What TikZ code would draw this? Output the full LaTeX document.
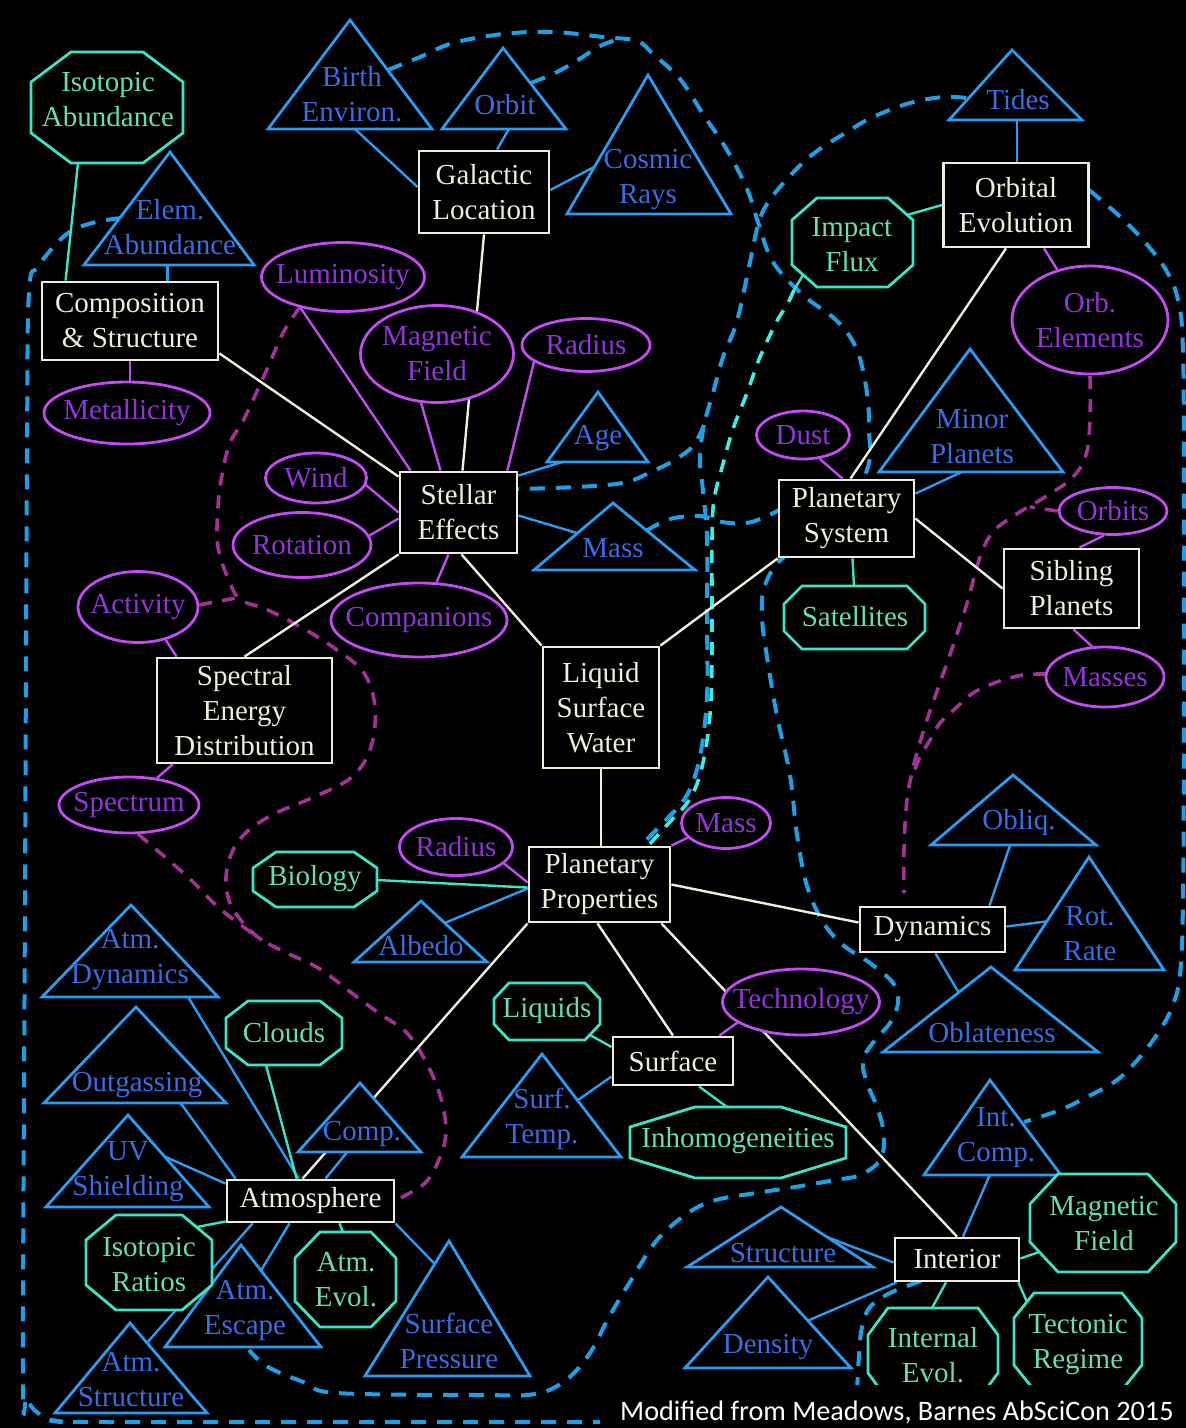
\documentclass[tikz,border=0pt]{standalone}
\usepackage{fontspec}
\usetikzlibrary{shapes.geometric,calc}
\newfontfamily\labfam{Liberation Serif}
\newfontfamily\capfam{Carlito}
\newcommand\labfont{\labfam\fontsize{29}{35}\selectfont}
\newcommand\capfont{\capfam\fontsize{28.2}{34}\selectfont}
\definecolor{wcol}{HTML}{EFEEDC}
\definecolor{bcol}{HTML}{2B9CF2}
\definecolor{btxt}{HTML}{3A6CE3}
\definecolor{pcol}{HTML}{C24CF2}
\definecolor{ptxt}{HTML}{9036D8}
\definecolor{tcol}{HTML}{3EE3C6}
\definecolor{ttxt}{HTML}{66DDB8}
\definecolor{bdcol}{HTML}{1FA0E6}
\definecolor{pdcol}{HTML}{A23198}
\definecolor{tdcol}{HTML}{3FEDE2}
\pgfdeclarelayer{bg}
\pgfdeclarelayer{mid}
\pgfsetlayers{bg,mid,main}
\tikzset{
  wbox/.style={rectangle, draw=wcol, line width=2.8pt, fill=black, text=wcol, inner sep=0pt, align=center, font=\labfont},
  ell/.style={ellipse, draw=pcol, line width=2.8pt, fill=black, inner sep=0pt},
  etx/.style={text=ptxt, inner sep=0pt, align=center, font=\labfont},
  ttx/.style={text=btxt, inner sep=0pt, align=center, font=\labfont},
  otx/.style={text=ttxt, inner sep=0pt, align=center, font=\labfont},
  tribox/.style={draw=bcol, line width=2.8pt, fill=black, line join=miter},
  octbox/.style={draw=tcol, line width=2.8pt, fill=black, line join=miter},
  wline/.style={draw=wcol, line width=2.4pt},
  bline/.style={draw=bcol, line width=2.4pt},
  pline/.style={draw=pcol, line width=2.4pt},
  tline/.style={draw=tcol, line width=2.4pt},
  bdash/.style={draw=bdcol, line width=4pt, dash pattern=on 15pt off 11pt},
  pdash/.style={draw=pdcol, line width=3.6pt, dash pattern=on 13pt off 10pt},
  tdash/.style={draw=tdcol, line width=3.6pt, dash pattern=on 13pt off 10pt},
}
% triangle: name, apex x, apex y, base left x, base right x, base y
\newcommand\tri[6]{%
  \coordinate (#1-a) at (#2,#3);
  \coordinate (#1-l) at (#4,#6);
  \coordinate (#1-r) at (#5,#6);
  \draw[tribox] (#1-a) -- (#1-r) -- (#1-l) -- cycle;}
% octagon: name, x1,y1,x2,y2, chamfer x, chamfer y
\newcommand\octo[7]{%
  \draw[octbox] (#2+#6,#3) -- (#4-#6,#3) -- (#4,#3+#7) -- (#4,#5-#7) -- (#4-#6,#5) -- (#2+#6,#5) -- (#2,#5-#7) -- (#2,#3+#7) -- cycle;}
\newcommand\ellnode[6]{%
  \node[ell, minimum width=#4pt, minimum height=#5pt] (#1) at (#2,#3) {};
  \node[etx] at (#1) {#6};}
\begin{document}
\begin{tikzpicture}[x=1pt,y=-1pt]
\begin{pgfonlayer}{bg}
\fill[black] (0,0) rectangle (1186,1428);
\end{pgfonlayer}
\useasboundingbox (0,0) rectangle (1186,1428);

% ---------- white boxes ----------
\node[wbox, minimum width=130pt, minimum height=82pt] (gal) at (484,192) {Galactic\\Location};
\node[wbox, minimum width=176pt, minimum height=78pt] (comp) at (130,321) {Composition\\\& Structure};
\node[wbox, minimum width=117pt, minimum height=81pt] (stel) at (458.5,512.5) {Stellar\\Effects};
\node[wbox, minimum width=145pt, minimum height=84pt] (orbev) at (1016,205) {Orbital\\Evolution};
\node[wbox, minimum width=135pt, minimum height=77pt] (psys) at (846.5,518.5) {Planetary\\System};
\node[wbox, minimum width=135pt, minimum height=79pt] (sib) at (1071.5,588.5) {Sibling\\Planets};
\node[wbox, minimum width=175pt, minimum height=105pt] (sed) at (244.5,710.5) {Spectral\\Energy\\Distribution};
\node[wbox, minimum width=116pt, minimum height=121pt] (lsw) at (601,707.5) {Liquid\\Surface\\Water};
\node[wbox, minimum width=141pt, minimum height=75pt] (pp) at (599.5,884.5) {Planetary\\Properties};
\node[wbox, minimum width=145pt, minimum height=45pt] (dyn) at (932.5,929.5) {Dynamics};
\node[wbox, minimum width=120pt, minimum height=48pt] (surf) at (673,1061) {Surface};
\node[wbox, minimum width=167pt, minimum height=42pt] (atm) at (310.5,1201) {Atmosphere};
\node[wbox, minimum width=124pt, minimum height=43pt] (int) at (957,1259.5) {Interior};

% ---------- blue triangles ----------
\tri{birth}{350}{20}{268}{432}{129}
\node[ttx] (birth) at (352,94) {Birth\\Environ.};
\tri{orbit}{503}{48}{442}{566}{129}
\node[ttx] (orbit) at (505,105) {Orbit};
\tri{cosmic}{648}{75}{567}{731}{214}
\node[ttx] (cosmic) at (648,180) {Cosmic\\Rays};
\tri{elem}{170}{152}{84}{254}{265}
\node[ttx] (elem) at (170,227) {Elem.\\Abundance};
\tri{age}{598}{392}{547}{648}{462}
\node[ttx] (age) at (598,438) {Age};
\tri{smass}{613}{503}{534}{695}{570}
\node[ttx] (smass) at (613,548) {Mass};
\tri{tides}{1012}{50}{949}{1082}{120}
\node[ttx] (tides) at (1018,100) {Tides};
\tri{minor}{970}{349}{879}{1063}{472}
\node[ttx] (minor) at (972,437) {Minor\\Planets};
\tri{albedo}{421}{901}{354}{487}{962}
\node[ttx] (albedo) at (421,946) {Albedo};
\tri{obliq}{1013}{775}{931}{1096}{845}
\node[ttx] (obliq) at (1019,823) {Obliq.};
\tri{rot}{1089}{857}{1015}{1164}{970}
\node[ttx] (rot) at (1090,934) {Rot.\\Rate};
\tri{oblat}{991}{967}{883}{1098}{1052}
\node[ttx] (oblat) at (992,1033) {Oblateness};
\tri{atmdyn}{131}{905}{42}{218}{997}
\node[ttx] (atmdyn) at (130,960) {Atm.\\Dynamics};
\tri{outg}{136}{1007}{44}{226}{1103}
\node[ttx] (outg) at (137,1085) {Outgassing};
\tri{uv}{128}{1115}{46}{209}{1207}
\node[ttx] (uv) at (128,1172) {UV\\Shielding};
\tri{acomp}{360}{1083}{298}{421}{1152}
\node[ttx] (acomp) at (362,1134) {Comp.};
\tri{escape}{241}{1245}{165}{321}{1347}
\node[ttx] (escape) at (245,1310) {Atm.\\Escape};
\tri{astruct}{130}{1323}{55}{207}{1413}
\node[ttx] (astruct) at (131,1380) {Atm.\\Structure};
\tri{spress}{449}{1241}{365}{530}{1376}
\node[ttx] (spress) at (449,1341) {Surface\\Pressure};
\tri{stemp}{542}{1054}{462}{621}{1157}
\node[ttx] (stemp) at (542,1119) {Surf.\\Temp.};
\tri{istruct}{781}{1207}{687}{873}{1267}
\node[ttx] (istruct) at (783,1253) {Structure};
\tri{density}{768}{1277}{685}{851}{1368}
\node[ttx] (density) at (768,1347) {Density};
\tri{icomp}{990}{1080}{924}{1061}{1175}
\node[ttx] (icomp) at (996,1138) {Int.\\Comp.};

% ---------- purple ellipses ----------
\ellnode{lum}{343}{277}{163}{69}{Luminosity}
\ellnode{smag}{437}{354}{153}{97}{Magnetic\\Field}
\ellnode{srad}{586}{345}{128}{53}{Radius}
\ellnode{metal}{127}{413}{166}{62}{Metallicity}
\ellnode{wind}{316}{478}{101}{50}{Wind}
\ellnode{rotn}{302}{545}{138}{65}{Rotation}
\ellnode{activ}{138}{607}{120}{71}{Activity}
\ellnode{compan}{419}{620}{176}{74}{Companions}
\ellnode{spec}{129}{805}{140}{56}{Spectrum}
\ellnode{prad}{456}{847}{113}{57}{Radius}
\ellnode{dust}{803}{435}{93}{48}{Dust}
\ellnode{orbel}{1090}{320}{156}{108}{Orb.\\Elements}
\ellnode{orbits}{1113}{511}{108}{47}{Orbits}
\ellnode{masses}{1105}{677}{118}{60}{Masses}
\ellnode{pmass}{726}{823}{89}{51}{Mass}
\ellnode{tech}{801}{1002}{157}{66}{Technology}

% ---------- teal octagons ----------
\octo{isoab}{31}{52}{183}{163}{40}{30}
\node[otx] (isoab) at (108,100) {Isotopic\\Abundance};
\octo{impact}{792}{198}{913}{287}{25}{22}
\node[otx] (impact) at (852,245) {Impact\\Flux};
\octo{sat}{784}{586}{925}{649}{18}{18}
\node[otx] (sat) at (855,617) {Satellites};
\octo{bio}{253}{852}{377}{907}{23}{16}
\node[otx] (bio) at (315,879) {Biology};
\octo{clouds}{226}{1001}{342}{1065}{22}{17}
\node[otx] (clouds) at (284,1033) {Clouds};
\octo{isorat}{86}{1215}{212}{1310}{30}{25}
\node[otx] (isorat) at (149,1265) {Isotopic\\Ratios};
\octo{atmev}{295}{1232}{396}{1327}{25}{26}
\node[otx] (atmev) at (346,1280) {Atm.\\Evol.};
\octo{liq}{494}{983}{600}{1040}{15}{16}
\node[otx] (liq) at (547,1011) {Liquids};
\octo{inhom}{630}{1107}{846}{1178}{65}{20}
\node[otx] (inhom) at (738,1141) {Inhomogeneities};
\octo{imag}{1030}{1174}{1176}{1272}{28}{30}
\node[otx] (imag) at (1104,1224) {Magnetic\\Field};
\octo{intev}{868}{1308}{998}{1400}{20}{27}
\node[otx] (intev) at (933,1355) {Internal\\Evol.};
\octo{tect}{1014}{1293}{1142}{1390}{20}{25}
\node[otx] (tect) at (1078,1345) {Tectonic\\Regime};

\coordinate (isoab-b) at (78,163);
\coordinate (impact-e) at (907,215);
\coordinate (impact-sw) at (803,275);
\coordinate (sat-n) at (854,586);
\coordinate (bio-e) at (377,880);
\coordinate (clouds-s) at (266,1065);
\coordinate (isorat-e) at (197,1227);
\coordinate (atmev-n) at (343,1232);
\coordinate (liq-e) at (590,1035);
\coordinate (inhom-n) at (727,1107);
\coordinate (imag-w) at (1039,1252);
\coordinate (intev-n) at (932,1308);
\coordinate (tect-w) at (1027,1302);

% ---------- connectors ----------
\begin{pgfonlayer}{mid}
% white
\draw[wline] (gal.south) -- ($(stel.north)+(4,0)$);
\draw[wline] ($(comp.south east)+(0,-8)$) -- ($(stel.north west)+(0,6)$);
\draw[wline] (stel.south west) -- (sed.north);
\draw[wline] ($(stel.south)+(3,0)$) -- (lsw.north west);
\draw[wline] (lsw.north east) -- (psys.south west);
\draw[wline] ($(psys.north)+(4,0)$) -- ($(orbev.south)+(-10,0)$);
\draw[wline] (psys.east) -- (sib.west);
\draw[wline] (lsw.south) -- (lsw.south |- pp.north);
\draw[wline] (pp.east) -- ($(dyn.west)+(0,-7)$);
\draw[wline] (pp.south west) -- ($(atm.north)+(-8,0)$);
\draw[wline] ($(pp.south)+(-2,0)$) -- (surf.north);
\draw[wline] ($(pp.south east)+(-10,0)$) -- (int.north);
% blue
\draw[bline] ($(birth-l)!0.53!(birth-r)$) -- ($(gal.west)+(0,-5)$);
\draw[bline] ($(orbit-l)!0.54!(orbit-r)$) -- ($(gal.north)+(13,0)$);
\draw[bline] ($(gal.east)+(0,-2)$) -- ($(cosmic-a)!0.66!(cosmic-l)$);
\draw[bline] ($(elem-l)!0.49!(elem-r)$) -- ++(0,17);
\draw[bline] ($(tides-l)!0.51!(tides-r)$) -- ++(0,43);
\draw[bline] ($(stel.north east)+(0,5)$) -- ($(age-l)!0.15!(age-r)$);
\draw[bline] ($(stel.east)+(0,3)$) -- ($(smass-a)!0.45!(smass-l)$);
\draw[bline] ($(psys.north east)+(0,15)$) -- ($(minor-l)!0.45!(minor-r)$);
\draw[bline] ($(obliq-l)!0.48!(obliq-r)$) -- ($(dyn.north)+(57,0)$);
\draw[bline] ($(dyn.east)+(0,-3)$) -- ($(rot-a)!0.57!(rot-l)$);
\draw[bline] ($(dyn.south)+(3,0)$) -- ($(oblat-a)!0.3!(oblat-l)$);
\draw[bline] ($(pp.west)+(0,4)$) -- ($(albedo-a)!0.36!(albedo-r)$);
\draw[bline] ($(icomp-l)!0.48!(icomp-r)$) -- ($(int.north)+(6,0)$);
\draw[bline] ($(istruct-a)!0.5!(istruct-r)$) -- ($(int.west)+(0,3)$);
\draw[bline] ($(density-a)!0.48!(density-r)$) -- ($(int.south west)+(3,0)$);
\draw[bline] ($(surf.south west)+(0,-10)$) -- ($(stemp-a)!0.45!(stemp-r)$);
\draw[bline] ($(atmdyn-l)!0.83!(atmdyn-r)$) -- ($(atm.north west)+(73,0)$);
\draw[bline] ($(outg-l)!0.75!(outg-r)$) -- ($(atm.north west)+(10,0)$);
\draw[bline] ($(uv-a)!0.45!(uv-r)$) -- ($(atm.north west)+(0,5)$);
\draw[bline] ($(acomp-l)!0.4!(acomp-r)$) -- ($(atm.north)+(15,0)$);
\draw[bline] ($(atm.south west)+(27,0)$) -- ($(astruct-a)!0.22!(astruct-r)$);
\draw[bline] ($(atm.south)+(-21,0)$) -- ($(escape-a)!0.25!(escape-r)$);
\draw[bline] (atm.south east) -- ($(spress-a)!0.17!(spress-l)$);
% purple
\draw[pline] (lum.216) -- ($(stel.north west)+(12,0)$);
\draw[pline] (smag.252) -- ($(stel.north)+(-18,0)$);
\draw[pline] (srad.198) -- ($(stel.north east)+(-11,0)$);
\draw[pline] (wind.-8) -- (stel.west);
\draw[pline] (rotn.8) -- ($(stel.west)+(0,6)$);
\draw[pline] ($(stel.south)+(-10,0)$) -- (compan.65);
\draw[pline] (comp.south) -- (comp.south |- metal.north);
\draw[pline] (activ.-50) -- ($(sed.north west)+(21,0)$);
\draw[pline] ($(sed.south west)+(17,0)$) -- (spec.44);
\draw[pline] ($(orbev.south)+(28,0)$) -- (orbel.123);
\draw[pline] (dust.-55) -- ($(psys.north)+(-4,0)$);
\draw[pline] (orbits.-111) -- ($(sib.north)+(8,0)$);
\draw[pline] ($(sib.south)+(2,0)$) -- (masses.113);
\draw[pline] (pp.north east) -- (pmass.201);
\draw[pline] (prad.-19) -- ($(pp.west)+(0,-2)$);
\draw[pline] ($(surf.north east)+(-15,0)$) -- (tech.198);
% teal
\draw[tline] (isoab-b) -- ($(comp.north west)+(25,0)$);
\draw[tline] (impact-e) -- (orbev.west);
\draw[tline] ($(psys.south)+(6,0)$) -- (sat-n);
\draw[tline] (bio-e) -- ($(pp.west)+(0,3)$);
\draw[tline] (clouds-s) -- ($(atm.north west)+(71,0)$);
\draw[tline] (isorat-e) -- ($(atm.south west)+(0,-2)$);
\draw[tline] (atmev-n) -- ($(atm.south)+(29,0)$);
\draw[tline] (liq-e) -- ($(surf.west)+(0,-14)$);
\draw[tline] ($(surf.south)+(26,0)$) -- (inhom-n);
\draw[tline] ($(int.east)+(0,-1)$) -- (imag-w);
\draw[tline] ($(int.south)+(-11,0)$) -- (intev-n);
\draw[tline] ($(int.south east)+(-2,0)$) -- (tect-w);
\draw[tline] (impact-sw) -- (794,290);
\end{pgfonlayer}

% ---------- dashed boundaries ----------
\begin{pgfonlayer}{bg}
\draw[bdash] plot[smooth, tension=0.6] coordinates {(388,70) (420,57) (453,43) (503,34) (553,32) (603,37) (637,41) (653,54) (680,79) (703,114) (727,150) (747,189) (758,222) (773,262) (803,295) (837,321) (857,350) (867,393) (869,430) (867,470) (835,528) (785,556) (765,585) (762,617) (767,657) (777,716) (790,775) (797,835) (807,886) (823,922) (843,945) (870,963) (893,983) (898,1003) (890,1023) (875,1040) (863,1060) (867,1083) (877,1107) (884,1135) (880,1160) (860,1175) (835,1180) (795,1187) (756,1193) (716,1200) (688,1213) (657,1240) (633,1277) (609,1317) (590,1353) (566,1380) (535,1394) (480,1395) (337,1393) (306,1383) (268,1367) (249,1350)};
\draw[bdash] plot[smooth, tension=0.6] coordinates {(531,83) (555,73) (578,60) (600,46) (622,38)};
\draw[bdash] plot[smooth, tension=0.6] coordinates {(966,98) (943,97) (910,103) (873,117) (847,132) (813,154) (787,179) (767,204) (758,225) (750,262) (737,321) (723,357) (713,393) (704,425) (700,459) (703,491) (707,538) (707,617) (707,696) (700,756) (687,795) (663,823) (640,846)};
\draw[bdash] plot[smooth, tension=0.6] coordinates {(704,425) (693,446) (673,461) (653,471) (627,482) (593,486) (553,488) (518,489)};
\draw[bdash] plot[smooth, tension=0.6] coordinates {(646,531) (670,519) (700,516) (722,522) (747,523) (767,516) (779,510)};
\draw[tdash] plot[smooth, tension=0.6] coordinates {(794,290) (787,305) (777,321) (760,357) (747,393) (733,429) (723,464) (714,500) (712,540) (712,620) (711,700) (704,758) (691,797) (667,825) (646,848)};
\draw[bdash] plot[smooth, tension=0.6] coordinates {(1089,190) (1116,213) (1143,240) (1166,270) (1178,300) (1183,350) (1184,500) (1184,700) (1183,900) (1180,975) (1172,1007) (1160,1030) (1140,1057) (1117,1080) (1087,1097) (1060,1110) (1024,1122)};
\draw[bdash] plot[smooth, tension=0.6] coordinates {(121,218) (96,222) (73,230) (57,243) (38,267) (29,292) (27,450) (25,900) (23,1370) (27,1398) (38,1413) (58,1421) (120,1422) (600,1422)};
\draw[bdash] plot[smooth, tension=0.6] coordinates {(921,1281) (890,1293) (870,1307) (862,1327) (859,1355) (857,1392)};
\draw[pdash] plot[smooth, tension=0.6] coordinates {(300,307) (283,333) (268,367) (245,417) (230,443) (222,475) (218,507) (218,547) (230,583) (241,600) (268,610) (306,630) (337,650) (364,673) (375,707) (371,747) (352,777) (314,797) (276,813) (249,830) (233,850) (226,877) (230,903) (245,925) (262,940) (287,953) (320,969) (353,994) (380,1014) (406,1032) (425,1060) (440,1095) (446,1130) (440,1157) (425,1183) (396,1200)};
\draw[pdash] plot[smooth, tension=0.6] coordinates {(138,834) (165,857) (191,880) (218,907) (245,928) (262,940)};
\draw[pdash] (activ.2) -- (236,598);
\draw[pdash] plot[smooth, tension=0.6] coordinates {(1090,376) (1090,420) (1086,455) (1072,478) (1045,497) (1015,515) (992,533) (979,560) (968,600) (955,640) (941,680) (927,720) (915,760) (907,800) (904,850) (904,893)};
\draw[pdash] (orbits.180) -- (1030,507);
\draw[pdash] plot[smooth, tension=0.6] coordinates {(1046,674) (1023,675) (997,682) (973,693) (957,707) (940,723) (930,740) (920,757) (913,775)};
\end{pgfonlayer}

% ---------- caption ----------
\fill[black] (600,1385) rectangle (1186,1428);
\node[anchor=base west, inner sep=0pt, text=white, font=\capfont] (cap) at (620,1420) {Modified from Meadows, Barnes AbSciCon 2015};
\end{tikzpicture}
\end{document}
